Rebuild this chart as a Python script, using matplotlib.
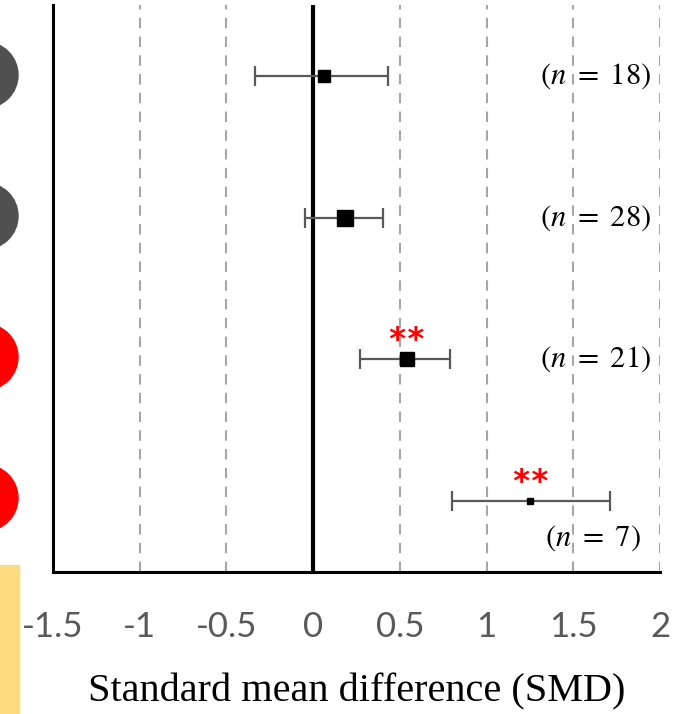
import matplotlib
matplotlib.use('Agg')
import matplotlib.pyplot as plt
from matplotlib.patches import Ellipse, Rectangle

plt.rcParams['mathtext.fontset'] = 'stix'

# Data (top row first)
rows = [4, 3, 2, 1]
smd = [0.06, 0.185, 0.54, 1.25]
ci_low = [-0.335, -0.045, 0.27, 0.80]
ci_high = [0.43, 0.40, 0.79, 1.71]
n_labels = [r'$(n\ =\ 18)$', r'$(n\ =\ 28)$', r'$(n\ =\ 21)$', r'$(n\ =\ 7)$']
signif = ['', '', '**', '**']
marker_sizes = [8.5, 11.5, 9.5, 5]
xticks = [-1.5, -1, -0.5, 0, 0.5, 1, 1.5, 2]

fig = plt.figure(figsize=(6.92, 7.14), dpi=100)
ax = fig.add_axes([53 / 692, 142 / 714, 607 / 692, 567 / 714])

# gridlines
for x in xticks[1:]:
    if x != 0:
        ax.axvline(x, color='#a6a6a6', lw=1.5, ls=(0, (5, 4)), zorder=0)
ax.axvline(0, color='black', lw=3, zorder=1)

for y, m, lo, hi, s, ms in zip(rows, smd, ci_low, ci_high, signif, marker_sizes):
    ax.errorbar(m, y, xerr=[[m - lo], [hi - m]], fmt='none', ecolor='#595959',
                elinewidth=1.6, capsize=7.5, capthick=1.6, zorder=2)
    ax.plot(m, y, marker='s', color='black', markersize=ms, zorder=3)
    if s:
        ax.text(m, y + 0.13, s, color='red', fontsize=23, ha='center', va='center',
                family='DejaVu Sans Mono', fontweight='bold')

label_x = [1.95, 1.95, 1.95, 1.89]
label_y = [4, 3, 2, 0.74]
for lx, ly, t in zip(label_x, label_y, n_labels):
    ax.text(lx, ly, t, fontsize=22, ha='right', va='center')

ax.set_xlim(-1.5, 2)
ax.set_ylim(0.5, 4.5)
ax.set_xticks(xticks)
ax.set_xticklabels(['-1.5', '-1', '-0.5', '0', '0.5', '1', '1.5', '2'],
                   fontsize=25, color='#595959', family='Lato')
ax.tick_params(axis='x', length=0, pad=28)
ax.set_yticks([])
for side in ['top', 'right']:
    ax.spines[side].set_visible(False)
ax.spines['left'].set_linewidth(2.2)
ax.spines['bottom'].set_linewidth(2.2)
ax.set_xlabel('Standard mean difference (SMD)', fontsize=29, family='Liberation Serif',
              labelpad=22)

# cropped markers at the left edge
circle_colors = ['#505050', '#505050', '#ff0000', '#ff0000']
circle_y = [75, 216, 357, 498]
for c, cy in zip(circle_colors, circle_y):
    fig.add_artist(Ellipse((-15, 714 - cy), 66, 66, color=c, transform=None))
fig.add_artist(Rectangle((0, 0), 19, 714 - 565, color='#ffdb80', transform=None))

fig.savefig('out.png', dpi=100)
